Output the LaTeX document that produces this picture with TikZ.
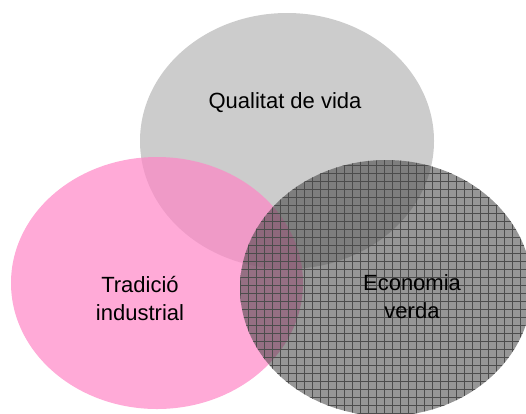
\documentclass[tikz,border=0pt]{standalone}
\usepackage{fontspec}
\setmainfont{Liberation Sans}
\usetikzlibrary{shapes.geometric,patterns.meta}
\definecolor{qgrey}{RGB}{204,204,204}
\definecolor{tpink}{RGB}{255,134,198}
\definecolor{edark}{RGB}{63,63,63}
\tikzset{
  blob/.style={ellipse, draw=none, inner sep=0pt},
  lbl/.style={align=center, font=\fontsize{22}{28}\selectfont, text=black}
}
\begin{document}
\begin{tikzpicture}[x=1pt,y=-1pt]
\useasboundingbox (0,0) rectangle (526,413);
\node[blob, fill=qgrey, minimum width=294pt, minimum height=256pt] (q) at (287,141) {};
\node[blob, fill=tpink, fill opacity=0.7, minimum width=292pt, minimum height=252pt] (t) at (157,283) {};
\node[blob, fill=edark, fill opacity=0.55, minimum width=292pt, minimum height=256pt] (e) at (386,288) {};
\node[blob, minimum width=292pt, minimum height=256pt, pattern={Lines[angle=0,distance=8pt,line width=0.6pt]}, pattern color=black!70, fill opacity=0.3] (eh) at (386,288) {};
\node[blob, minimum width=292pt, minimum height=256pt, pattern={Lines[angle=90,distance=8pt,line width=0.6pt]}, pattern color=black!70, fill opacity=0.3] (ev) at (386,288) {};
\node[lbl] (ql) at (285,103) {Qualitat de vida};
\node[lbl] (tl) at (140,298) {Tradició\\industrial};
\node[lbl] (el) at (412,297) {Economia\\verda};
\end{tikzpicture}
\end{document}
